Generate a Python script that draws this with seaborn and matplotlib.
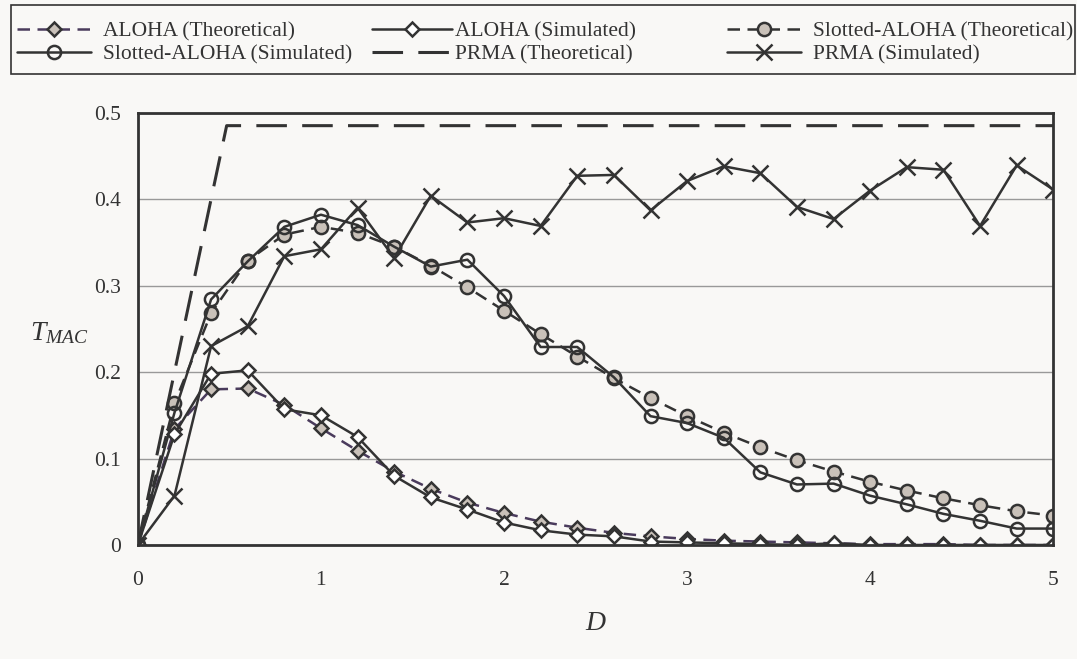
import numpy as np
import pandas as pd
import matplotlib
matplotlib.use("Agg")
import matplotlib.pyplot as plt
from matplotlib.patches import Rectangle
import seaborn as sns

# offered load D (step 0.2)
D = [0.0, 0.2, 0.4, 0.6, 0.8, 1.0, 1.2, 1.4, 1.6, 1.8, 2.0, 2.2, 2.4,
     2.6, 2.8, 3.0, 3.2, 3.4, 3.6, 3.8, 4.0, 4.2, 4.4, 4.6, 4.8, 5.0]

aloha_theo = [0.0, 0.134, 0.180, 0.181, 0.162, 0.135, 0.109, 0.085, 0.065,
              0.049, 0.037, 0.027, 0.020, 0.014, 0.010, 0.007, 0.005, 0.004,
              0.003, 0.002, 0.001, 0.001, 0.001, 0.0, 0.0, 0.0]
aloha_sim = [0.0, 0.128, 0.198, 0.202, 0.157, 0.150, 0.125, 0.080, 0.055,
             0.041, 0.026, 0.017, 0.012, 0.010, 0.004, 0.003, 0.002, 0.001,
             0.0, 0.002, 0.0, 0.0, 0.0, 0.0, 0.0, 0.0]
slotted_theo = [0.0, 0.164, 0.268, 0.329, 0.359, 0.368, 0.361, 0.345, 0.323,
                0.298, 0.271, 0.244, 0.218, 0.193, 0.170, 0.149, 0.130, 0.113,
                0.098, 0.085, 0.073, 0.063, 0.054, 0.046, 0.039, 0.034]
slotted_sim = [0.0, 0.153, 0.284, 0.328, 0.368, 0.382, 0.370, 0.345, 0.322,
               0.330, 0.288, 0.229, 0.229, 0.194, 0.149, 0.141, 0.124, 0.084,
               0.070, 0.071, 0.057, 0.047, 0.036, 0.028, 0.019, 0.019]
prma_sim = [0.0, 0.057, 0.230, 0.253, 0.334, 0.342, 0.390, 0.332, 0.404,
            0.373, 0.378, 0.369, 0.427, 0.428, 0.387, 0.421, 0.438, 0.430,
            0.391, 0.377, 0.410, 0.437, 0.434, 0.369, 0.439, 0.411]

# PRMA theoretical: linear rise then flat
prma_theo_D = [0.0, 0.485, 5.0]
prma_theo = [0.0, 0.485, 0.485]

sns.set_style("white")
plt.rcParams["font.family"] = ["Liberation Serif", "DejaVu Serif"]
plt.rcParams["mathtext.fontset"] = "custom"
plt.rcParams["mathtext.it"] = "Liberation Serif:italic"
plt.rcParams["mathtext.rm"] = "Liberation Serif"

bg = "#f9f8f6"
dark = "#333333"
fill = "#c9c1b9"
W, H = 1077, 659

fig = plt.figure(figsize=(W / 100, H / 100), dpi=100, facecolor=bg)
ax = fig.add_axes([0.128, 0.173, 0.850, 0.656])
ax.set_facecolor(bg)

series = [
    ("ALOHA (Theoretical)", D, aloha_theo,
     dict(color="#4a3b5c", linestyle=(0, (5, 3)), marker="D", markersize=7.5,
          markerfacecolor=fill, markeredgecolor=dark, markeredgewidth=1.8)),
    ("ALOHA (Simulated)", D, aloha_sim,
     dict(color=dark, linestyle="-", marker="D", markersize=7.5,
          markerfacecolor="white", markeredgecolor=dark, markeredgewidth=1.8)),
    ("Slotted-ALOHA (Theoretical)", D, slotted_theo,
     dict(color=dark, linestyle=(0, (5, 3)), marker="o", markersize=9.5,
          markerfacecolor=fill, markeredgecolor=dark, markeredgewidth=1.8)),
    ("Slotted-ALOHA (Simulated)", D, slotted_sim,
     dict(color=dark, linestyle="-", marker="o", markersize=9.5,
          markerfacecolor="none", markeredgecolor=dark, markeredgewidth=1.8)),
    ("PRMA (Theoretical)", prma_theo_D, prma_theo,
     dict(color=dark, linestyle=(0, (10, 5)), linewidth=2.2)),
    ("PRMA (Simulated)", D, prma_sim,
     dict(color=dark, linestyle="-", marker="x", markersize=12,
          markeredgecolor=dark, markeredgewidth=1.8)),
]

for name, xs, ys, style in series:
    df = pd.DataFrame({"D": xs, "T": ys})
    kw = dict(linewidth=1.8)
    kw.update(style)
    sns.lineplot(data=df, x="D", y="T", ax=ax, label=name, sort=False,
                 legend=False, **kw)

ax.set_xlim(0, 5)
ax.set_ylim(0, 0.5)
ax.set_xticks([0, 1, 2, 3, 4, 5])
ax.set_xticklabels(["0", "1", "2", "3", "4", "5"])
ax.set_yticks([0, 0.1, 0.2, 0.3, 0.4, 0.5])
ax.set_yticklabels(["0", "0.1", "0.2", "0.3", "0.4", "0.5"])
ax.yaxis.grid(True, color="#999999", linewidth=1)
ax.set_axisbelow(True)
ax.tick_params(axis="both", labelsize=15.5, colors="#888888", labelcolor="#333333",
               length=5, width=1, direction="out")
ax.tick_params(axis="x", pad=14)
ax.tick_params(axis="y", pad=7)
for sp in ax.spines.values():
    sp.set_color(dark)
    sp.set_linewidth(2)

ax.set_xlabel("$D$", fontsize=20, color=dark)
ax.set_ylabel("$T_{MAC}$", fontsize=20, color=dark, rotation=0, va="center")
ax.yaxis.set_label_coords(-0.0856, 0.49)
ax.xaxis.set_label_coords(0.5, -0.152)

# legend: three columns placed like the original, one shared frame
handles, labels = ax.get_legend_handles_labels()
columns = [([0, 3], 17, 3.45, 0.55), ([1, 4], 372, 3.7, 0.15), ([2, 5], 727, 3.45, 0.55)]
for idx, x0, hl, pad in columns:
    leg = fig.legend([handles[i] for i in idx], [labels[i] for i in idx],
                     loc="upper left", bbox_to_anchor=(x0 / W, 1 - 21 / H),
                     fontsize=15.5, frameon=False, handlelength=hl,
                     handletextpad=pad, borderpad=0, borderaxespad=0,
                     labelspacing=0.15, labelcolor=dark)
fig.add_artist(Rectangle((11 / W, 1 - 74 / H), 1064 / W, 69 / H,
                         transform=fig.transFigure, fill=False,
                         edgecolor=dark, linewidth=1.2))

fig.savefig("out.png", dpi=100, facecolor=bg)
